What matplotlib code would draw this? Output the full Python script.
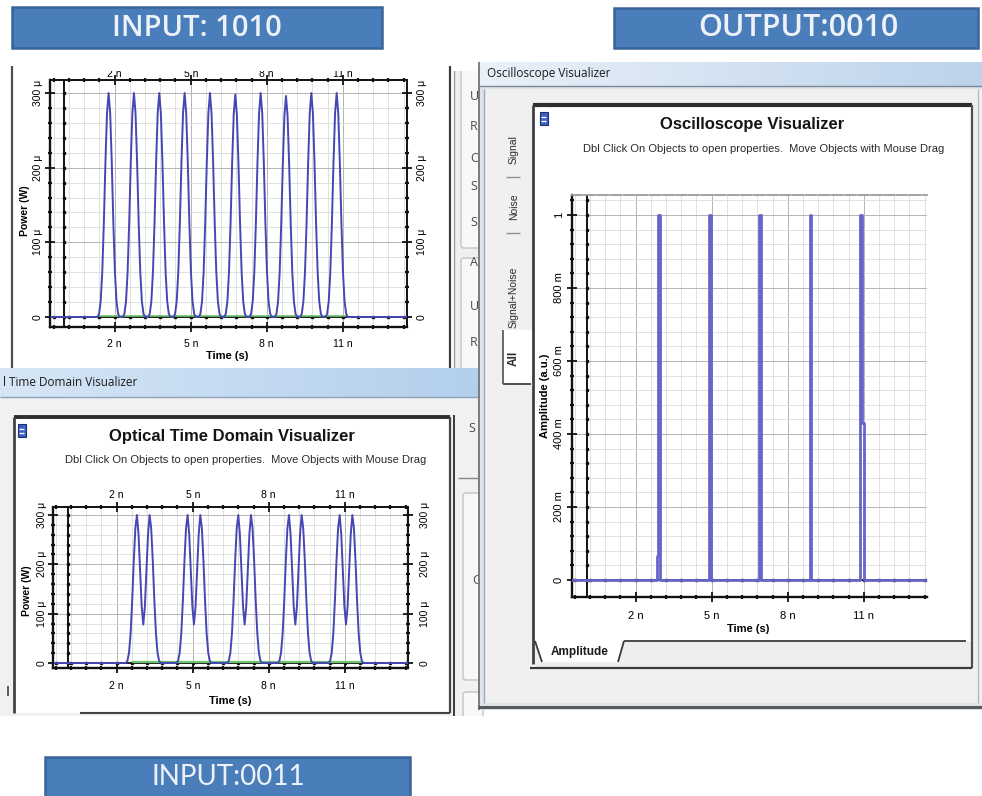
import numpy as np
import matplotlib
matplotlib.use("Agg")
import matplotlib.pyplot as plt
from matplotlib.patches import Rectangle, Polygon, FancyBboxPatch
from matplotlib import font_manager

plt.rcParams['font.family'] = ['Liberation Sans', 'DejaVu Sans']

W, H = 982, 796

# ---------------- data ----------------
# time axis ticks (ns)
xtick_values = [2, 5, 8, 11]
xtick_labels = ["2 n", "5 n", "8 n", "11 n"]

# optical power ticks (uW)
ptick_values = [0, 100, 200, 300]
ptick_labels = ["0", "100 \u03bc", "200 \u03bc", "300 \u03bc"]

# amplitude ticks (a.u.)
atick_values = [0, 0.2, 0.4, 0.6, 0.8, 1.0]
atick_labels = ["0", "200 m", "400 m", "600 m", "800 m", "1"]

# sample step of the optical traces (ns)
DT = 1 / 16

# INPUT 1010 : optical pulse train
in1010_centers = [1.75, 2.76, 3.75, 4.75, 5.76, 6.75, 7.77, 8.76, 9.75, 10.78]
in1010_peaks = [300, 300, 300, 300, 300, 298, 300, 296, 300, 300]
single_profile = [0, 0.015, 0.07, 0.2, 0.42, 0.69, 0.91, 1.0,
                  0.91, 0.69, 0.42, 0.2, 0.07, 0.015, 0]
in1010_green = (1.40, 11.10)

# INPUT 0011 : optical double pulses
in0011_centers = [3.05, 5.05, 7.07, 9.05, 11.06]
in0011_peaks = [300, 300, 300, 300, 300]
pair_profile = [0, 0.015, 0.07, 0.2, 0.42, 0.69, 0.91, 1.0, 0.87, 0.62, 0.38,
                0.26, 0.38, 0.62, 0.87, 1.0, 0.91, 0.69, 0.42, 0.2, 0.07, 0.015, 0]
in0011_green = (2.65, 11.65)

# OUTPUT 0010 : oscilloscope amplitude spikes
out_times = [2.93, 4.93, 6.91, 8.90, 10.90]
out_amps = [1.0, 1.0, 1.0, 1.0, 1.0]
out_lead = [0.065, 0.0, 0.0, 0.0, 0.0]
out_trail = [0.0, 0.0, 0.0, 0.0, 0.43]
SPIKE_W = 0.07
SHOULDER_W = 0.06

TRACE = '#4646b4'
SPIKE = '#6666ca'

names = {f.name for f in font_manager.fontManager.ttflist}
NARROW = 'Liberation Sans Narrow' if 'Liberation Sans Narrow' in names else 'Liberation Sans'
UI = 'Open Sans'

fig = plt.figure(figsize=(9.82, 7.96), dpi=100)
fig.patch.set_facecolor('white')

bg = fig.add_axes([0, 0, 1, 1], zorder=0)
bg.set_xlim(0, W)
bg.set_ylim(H, 0)
bg.axis('off')


def rect(ax, x0, y0, x1, y1, fc='none', ec='none', lw=1.0, z=1, **kw):
    ax.add_patch(Rectangle((x0, y0), x1 - x0, y1 - y0, fc=fc, ec=ec, lw=lw,
                           zorder=z, **kw))


def seg(ax, xs, ys, c, lw, z=3, **kw):
    ax.plot(xs, ys, color=c, lw=lw, zorder=z, solid_capstyle='butt', **kw)


def gradient(ax, x0, y0, x1, y1, c0, c1, z=1):
    c0 = np.array(matplotlib.colors.to_rgb(c0))
    c1 = np.array(matplotlib.colors.to_rgb(c1))
    f = np.linspace(0, 1, 256)[None, :, None]
    img = c0 + (c1 - c0) * f
    ax.imshow(img, extent=(x0, x1, y1, y0), aspect='auto', zorder=z,
              interpolation='bilinear')


# ---------- upper-left window ----------
rect(bg, 0, 62, 478, 368, fc='white', z=1)
seg(bg, [12, 12], [64, 368], '#505050', 1.6)
seg(bg, [450, 450], [64, 368], '#3a3a3a', 1.6)
seg(bg, [454, 454], [64, 368], '#9a9a9a', 1.0)
rect(bg, 455, 62, 478, 368, fc='#efefef', z=1)
bg.add_patch(FancyBboxPatch((461, 58), 22, 190, boxstyle='round,pad=0,rounding_size=3',
                            fc='#f8f8f8', ec='#c4c4c4', lw=1, zorder=2))
bg.add_patch(FancyBboxPatch((461, 258), 22, 115, boxstyle='round,pad=0,rounding_size=3',
                            fc='#f8f8f8', ec='#c4c4c4', lw=1, zorder=2))
for ch, yy in zip("UROSSAUR", [97, 127, 158, 187, 222, 263, 307, 343]):
    bg.text(470, yy, ch, fontsize=9, color='#4a4a4a', va='center', ha='left',
            family=UI, zorder=3)

# ---------- lower-left window ----------
gradient(bg, 0, 368, 478, 397, '#d6e6f6', '#b3cfec', z=4)
seg(bg, [0, 478], [397, 397], '#8ea4bc', 1.0, z=5)
bg.text(3, 383, "l Time Domain Visualizer", fontsize=8.5, family=UI,
        color='#1c1c1c', va='center', ha='left', zorder=5)
rect(bg, 0, 397, 478, 716, fc='#f1f1f1', z=1)
rect(bg, 14, 417, 450, 713, fc='white', z=2)
seg(bg, [14, 450], [417, 417], '#2e2e2e', 2.8)
seg(bg, [14, 14], [417, 713], '#444444', 2.0)
seg(bg, [450, 450], [417, 713], '#444444', 1.6)
seg(bg, [80, 450], [713, 713], '#444444', 1.5)
seg(bg, [454, 454], [415, 716], '#3a3a3a', 1.4)
seg(bg, [458, 478], [478, 478], '#888888', 1.0)
bg.add_patch(FancyBboxPatch((463, 493), 20, 187, boxstyle='round,pad=0,rounding_size=3',
                            fc='#f8f8f8', ec='#c4c4c4', lw=1, zorder=2))
bg.add_patch(FancyBboxPatch((463, 692), 20, 30, boxstyle='round,pad=0,rounding_size=3',
                            fc='#f8f8f8', ec='#c4c4c4', lw=1, zorder=2))
bg.text(468, 428, "S", fontsize=9, color='#4a4a4a', va='center', family=UI, zorder=3)
bg.text(472, 580, "C", fontsize=9, color='#4a4a4a', va='center', family=UI, zorder=3)
seg(bg, [8, 8], [686, 696], '#444444', 1.2)
# panel icon
rect(bg, 18, 424, 26, 437, fc='#3a5fc8', ec='#20306a', lw=0.8, z=4)
seg(bg, [19.5, 24.5], [429, 429], 'white', 1.0, z=5)
seg(bg, [19.5, 24.5], [433, 433], 'white', 1.0, z=5)
bg.text(232, 436, "Optical Time Domain Visualizer", fontsize=12, fontweight='bold',
        ha='center', va='center', color='#141414', zorder=5)
bg.text(246, 460, "Dbl Click On Objects to open properties.  Move Objects with Mouse Drag",
        fontsize=8, family=NARROW, ha='center', va='center', color='#2a2a2a', zorder=5)

# ---------- oscilloscope window ----------
gradient(bg, 478, 62, 982, 86, '#eaf1f9', '#bcd3eb', z=4)
bg.text(487, 73, "Oscilloscope Visualizer", fontsize=8.5, family=UI,
        color='#1c1c1c', va='center', ha='left', zorder=5)
rect(bg, 478, 86, 982, 710, fc='#dde4ec', z=4)
seg(bg, [479, 479], [62, 710], '#6a6a6a', 1.2, z=6)
seg(bg, [478, 982], [86, 86], '#7a8796', 1.0, z=6)
rect(bg, 484, 89, 982, 703, fc='#f0f0f0', z=5)
seg(bg, [484, 484], [89, 703], '#a8a8a8', 1.0, z=6)
seg(bg, [478, 982], [707, 707], '#5a5a5a', 2.2, z=6)
seg(bg, [978, 978], [89, 703], '#b8b8b8', 1.0, z=6)
rect(bg, 533, 105, 972, 668, fc='white', z=6)
seg(bg, [533, 972], [105, 105], '#2e2e2e', 3.0, z=7)
seg(bg, [533, 533], [105, 664], '#404040', 2.0, z=7)
seg(bg, [972, 972], [105, 668], '#505050', 1.6, z=7)
# tab strip with the "Amplitude" tab
rect(bg, 535, 641, 971, 667, fc='#eeeeee', z=6)
bg.add_patch(Polygon([(535, 641), (542, 662), (618, 662), (624, 641)], closed=True,
                     fc='white', ec='none', zorder=7))
seg(bg, [535, 542], [641, 662], '#3a3a3a', 1.3, z=8)
seg(bg, [618, 624], [662, 641], '#3a3a3a', 1.3, z=8)
seg(bg, [624, 966], [641, 641], '#4a4a4a', 1.4, z=8)
seg(bg, [530, 972], [668, 668], '#3a3a3a', 1.6, z=8)
bg.text(580, 652, "Amplitude", fontsize=8.5, fontweight='bold', ha='center',
        va='center', color='#1a1a1a', zorder=8)
# vertical tabs on the left
rect(bg, 503, 330, 533, 384, fc='white', z=6)
seg(bg, [503, 503], [330, 384], '#505050', 1.2, z=7)
seg(bg, [503, 531], [384, 384], '#505050', 1.4, z=7)
for txt, yy, bold in [("Signal", 150, False), ("Noise", 207, False),
                      ("Signal+Noise", 297, False), ("All", 358, True)]:
    bg.text(514, yy, txt, fontsize=7.5 if not bold else 8.5, rotation=90,
            fontweight='bold' if bold else 'normal', ha='center', va='center',
            color='#2a2a2a', zorder=8)
seg(bg, [506, 520], [177, 177], '#909090', 1.0, z=7)
seg(bg, [506, 520], [233, 233], '#909090', 1.0, z=7)
# panel icon
rect(bg, 540, 112, 548, 125, fc='#3a5fc8', ec='#20306a', lw=0.8, z=8)
seg(bg, [541.5, 546.5], [117, 117], 'white', 1.0, z=9)
seg(bg, [541.5, 546.5], [121, 121], 'white', 1.0, z=9)
bg.text(752, 125, "Oscilloscope Visualizer", fontsize=12, fontweight='bold',
        ha='center', va='center', color='#141414', zorder=8)
bg.text(764, 149, "Dbl Click On Objects to open properties.  Move Objects with Mouse Drag",
        fontsize=8, family=NARROW, ha='center', va='center', color='#2a2a2a', zorder=8)


# ---------------- plot axes ----------------
def px_axes(l, t, r, b):
    return fig.add_axes([l / W, 1 - b / H, (r - l) / W, (b - t) / H], zorder=3)


def build_trace(t, centers, peaks, profile):
    y = np.zeros_like(t)
    half = len(profile) // 2
    for c, p in zip(centers, peaks):
        i0 = int(round((c - t[0]) / DT))
        for k, v in enumerate(profile):
            y[i0 - half + k] += p * v
    return y


def style_axes(ax, xlim, ylim, yvals, ylabs, yminor_step, xinner, pads,
               top_labels, right_labels, dashed_top=False):
    ax.set_xlim(*xlim)
    ax.set_ylim(*ylim)
    ax.set_facecolor('white')
    xminor = np.arange(2 - 0.6 * 4, xlim[1], 0.6)
    xminor = xminor[(xminor > xlim[0]) & (xminor < xlim[1])]
    yminor = np.arange(0, ylim[1], yminor_step)
    ax.set_xticks(xtick_values, xtick_labels)
    ax.set_xticks(xminor, minor=True)
    ax.set_yticks(yvals, ylabs)
    ax.set_yticks(yminor, minor=True)
    ax.grid(which='minor', color='#dcdcdc', lw=0.6)
    ax.grid(which='major', color='#b4b4b4', lw=0.7)
    ax.set_axisbelow(True)
    for s in ('left', 'bottom'):
        ax.spines[s].set_linewidth(1.7)
        ax.spines[s].set_color('#111111')
    if dashed_top:
        ax.spines['top'].set_linestyle((0, (6, 1.2)))
        ax.spines['top'].set_color('#9a9a9a')
        ax.spines['top'].set_linewidth(1.3)
        ax.spines['right'].set_visible(False)
    else:
        for s in ('top', 'right'):
            ax.spines[s].set_linewidth(1.4)
            ax.spines[s].set_color('#111111')
    ticks_tr = not dashed_top
    ax.tick_params(which='both', direction='inout', color='#111111',
                   top=ticks_tr, right=ticks_tr, labelsize=7.5 if ticks_tr else 8)
    ax.tick_params(which='major', length=7, width=1.3)
    ax.tick_params(which='minor', length=3.5, width=1.6)
    ax.tick_params(axis='x', pad=pads[0])
    ax.tick_params(axis='y', pad=pads[1], labelrotation=90)
    for lab in ax.get_yticklabels():
        lab.set_va('center')
    # zero axes drawn inside the frame, with dots at the minor steps
    ax.axhline(0, color='#111111', lw=1.3, zorder=2.5)
    ax.axvline(xinner, color='#111111', lw=1.4, zorder=2.5)
    ax.plot(xminor, np.zeros_like(xminor), 's', ms=1.8, color='#111111', zorder=2.6)
    ax.plot(np.full_like(yminor, xinner), yminor, 's', ms=1.8, color='#111111', zorder=2.6)
    if top_labels is not None:
        sx = ax.secondary_xaxis('top')
        sx.set_xticks(xtick_values, xtick_labels)
        sx.tick_params(length=0, pad=top_labels, labelsize=7.5)
        sx.spines['top'].set_visible(False)
    if right_labels is not None:
        sy = ax.secondary_yaxis('right')
        sy.set_yticks(yvals, ylabs)
        sy.tick_params(length=0, pad=right_labels, labelsize=7.5, labelrotation=90)
        for lab in sy.get_yticklabels():
            lab.set_va('center')
        sy.spines['right'].set_visible(False)


PPN = 25.34  # pixels per ns

# INPUT 1010 (upper left)
ax1 = px_axes(50, 80, 407, 327)
x0 = 64
xl1 = (-(x0 - 50) / PPN, (407 - x0) / PPN)
ppu1 = (317 - 93) / 300
yl1 = (-(327 - 317) / ppu1, (317 - 80) / ppu1)
t1 = np.arange(xl1[0] + DT, xl1[1], DT)
p1 = build_trace(t1, in1010_centers, in1010_peaks, single_profile)
ax1.plot([in1010_green[0], in1010_green[1]], [1.5, 1.5], color='#6cc46c', lw=1.2, zorder=2.7)
ax1.plot(t1, p1, color=TRACE, lw=1.4, zorder=3)
style_axes(ax1, xl1, yl1, ptick_values, ptick_labels, 20, 0.0,
           pads=(5.4, 1.8), top_labels=1.0, right_labels=7.2)
ax1.set_xlabel("Time (s)", fontsize=8, fontweight='bold')
ax1.xaxis.set_label_coords((227 - 50) / 357, (327 - 351) / 247)
ax1.set_ylabel("Power (W)", fontsize=7.5, fontweight='bold')
ax1.yaxis.set_label_coords((30 - 50) / 357, 0.47)

# INPUT 0011 (lower left)
ax2 = px_axes(53, 507, 408, 668)
x0 = 66
xl2 = (-(x0 - 53) / PPN, (408 - x0) / PPN)
ppu2 = (663 - 515) / 300
yl2 = (-(668 - 663) / ppu2, (663 - 507) / ppu2)
t2 = np.arange(xl2[0] + DT, xl2[1], DT)
p2 = build_trace(t2, in0011_centers, in0011_peaks, pair_profile)
ax2.plot([in0011_green[0], in0011_green[1]], [2.5, 2.5], color='#6cc46c', lw=1.6, zorder=2.7)
ax2.plot(t2, p2, color=TRACE, lw=1.4, zorder=3)
style_axes(ax2, xl2, yl2, ptick_values, ptick_labels, 20, 0.08,
           pads=(6.1, 1.1), top_labels=5.0, right_labels=8.6)
ax2.set_xlabel("Time (s)", fontsize=8, fontweight='bold')
ax2.xaxis.set_label_coords((230 - 53) / 355, (668 - 696) / 161)
ax2.set_ylabel("Power (W)", fontsize=7.5, fontweight='bold')
ax2.yaxis.set_label_coords((32 - 53) / 355, 0.48)

# OUTPUT 0010 (oscilloscope)
ax3 = px_axes(572, 195, 927, 597)
x0 = 585
xl3 = (-(x0 - 572) / PPN, (927 - x0) / PPN)
ppu3 = 580 - 215
yl3 = (-(597 - 580) / ppu3, (580 - 195) / ppu3)
ts, ys = [xl3[0]], [0.0]
for tc, a, ld, tr in zip(out_times, out_amps, out_lead, out_trail):
    l = tc - SPIKE_W / 2
    r = tc + SPIKE_W / 2
    ts += [l - SHOULDER_W, l - SHOULDER_W, l, l, r, r, r + SHOULDER_W, r + SHOULDER_W]
    ys += [0, ld, ld, a, a, tr, tr, 0]
ts.append(xl3[1])
ys.append(0.0)
ax3.plot(ts, ys, color=SPIKE, lw=2.0, zorder=3)
style_axes(ax3, xl3, yl3, atick_values, atick_labels, 0.04, 0.08,
           pads=(6.8, 2.5), top_labels=None, right_labels=None, dashed_top=True)
ax3.set_xlabel("Time (s)", fontsize=8, fontweight='bold')
ax3.xaxis.set_label_coords((748 - 572) / 355, (597 - 624) / 402)
ax3.set_ylabel("Amplitude (a.u.)", fontsize=8, fontweight='bold')
ax3.yaxis.set_label_coords((550 - 572) / 355, 0.5)

# ---------------- overlay: page margin and captions ----------------
ov = fig.add_axes([0, 0, 1, 1], zorder=10)
ov.set_xlim(0, W)
ov.set_ylim(H, 0)
ov.axis('off')
ov.patch.set_alpha(0)
rect(ov, 0, 0, 478, 71, fc='white', z=1)
rect(ov, 478, 0, 982, 62, fc='white', z=1)
rect(ov, 0, 716, 982, 796, fc='white', z=1)
seg(ov, [12, 12], [66, 71], '#505050', 1.6, z=1.5)
seg(ov, [450, 450], [66, 71], '#3a3a3a', 1.6, z=1.5)

BANNER = '#4a7ebb'
BANNER_EDGE = '#39649a'
rect(ov, 12, 7, 382, 48, fc=BANNER, ec=BANNER_EDGE, lw=1.8, z=2)
ov.text(197, 28, "INPUT: 1010", fontsize=21, family='Open Sans', fontweight='semibold',
        color='#eef2f8', ha='center', va='center', zorder=3)
rect(ov, 614, 8, 978, 48, fc=BANNER, ec=BANNER_EDGE, lw=1.8, z=2)
ov.text(798, 28, "OUTPUT:0010", fontsize=22, family='Open Sans', fontweight='semibold',
        color='#eef2f8', ha='center', va='center', zorder=3)
rect(ov, 45, 757, 410, 800, fc=BANNER, ec=BANNER_EDGE, lw=1.8, z=2)
ov.text(228, 777, "INPUT:0011", fontsize=20, family='Lato', color='#eef2f8',
        ha='center', va='center', zorder=3)

fig.savefig("out.png", dpi=100, facecolor='white')
